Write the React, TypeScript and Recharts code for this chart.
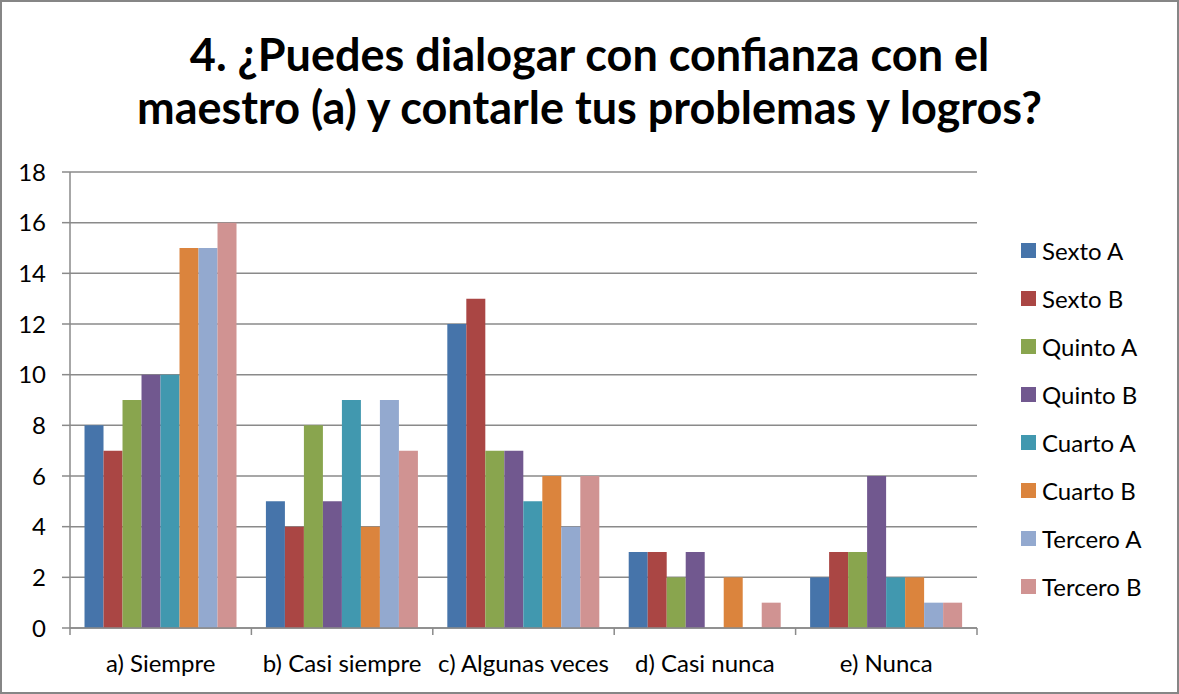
import React from 'react';
import { BarChart, Bar, XAxis, YAxis, CartesianGrid } from 'recharts';

const categories = ['a) Siempre', 'b) Casi siempre', 'c) Algunas veces', 'd) Casi nunca', 'e) Nunca'];
const seriesNames = ['Sexto A', 'Sexto B', 'Quinto A', 'Quinto B', 'Cuarto A', 'Cuarto B', 'Tercero A', 'Tercero B'];
const seriesColors = ['#4674AA', '#AA4644', '#89A54E', '#71588F', '#4198AF', '#DB843D', '#93A9CF', '#D09392'];

const sextoA = [8, 5, 12, 3, 2];
const sextoB = [7, 4, 13, 3, 3];
const quintoA = [9, 8, 7, 2, 3];
const quintoB = [10, 5, 7, 3, 6];
const cuartoA = [10, 9, 5, 0, 2];
const cuartoB = [15, 4, 6, 2, 2];
const terceroA = [15, 9, 4, 0, 1];
const terceroB = [16, 7, 6, 1, 1];
const yTicks = [0, 2, 4, 6, 8, 10, 12, 14, 16, 18];

const seriesValues = [sextoA, sextoB, quintoA, quintoB, cuartoA, cuartoB, terceroA, terceroB];

const data = categories.map((name, i) => {
  const row: Record<string, string | number> = { name };
  seriesNames.forEach((s, j) => {
    row[s] = seriesValues[j][i];
  });
  return row;
});

const W = 1179;
const H = 694;
const PLOT_LEFT = 70;
const PLOT_RIGHT = 202;
const PLOT_TOP = 172;
const X_AXIS_H = 66;
const BAND = (W - PLOT_LEFT - PLOT_RIGHT) / categories.length;
const AXIS_GRAY = '#8a8a8a';
const LABEL_SIZE = 24;

const XTick = (props: any) => {
  const { x, y, payload, index } = props;
  return (
    <g>
      <line x1={x - BAND / 2} x2={x - BAND / 2} y1={y} y2={y + 7} stroke={AXIS_GRAY} strokeWidth={1.5} />
      {index === categories.length - 1 && (
        <line x1={x + BAND / 2} x2={x + BAND / 2} y1={y} y2={y + 7} stroke={AXIS_GRAY} strokeWidth={1.5} />
      )}
      <text x={x} y={y + 34} textAnchor="middle" dominantBaseline="central" fontSize={LABEL_SIZE} fill="#000">
        {payload.value}
      </text>
    </g>
  );
};

const LegendBox = () => (
  <div style={{ position: 'absolute', left: 1021, top: 226, display: 'flex', flexDirection: 'column' }}>
    {seriesNames.map((s, i) => (
      <div key={s} style={{ display: 'flex', alignItems: 'center', height: 48 }}>
        <span style={{ width: 15, height: 15, background: seriesColors[i], marginRight: 6, display: 'inline-block' }} />
        <span style={{ fontSize: LABEL_SIZE, color: '#000' }}>{s}</span>
      </div>
    ))}
  </div>
);

export default function App() {
  return (
    <div
      style={{
        position: 'absolute',
        left: 0,
        top: 0,
        width: W,
        height: H,
        background: '#fff',
        fontFamily: 'Lato, "Open Sans", sans-serif',
      }}
    >
      <div
        style={{
          position: 'absolute',
          left: 0,
          top: 28,
          width: W,
          textAlign: 'center',
          fontWeight: 'bold',
          fontSize: 45,
          lineHeight: '53px',
          color: '#000',
        }}
      >
        4. ¿Puedes dialogar con confianza con el
        <br />
        maestro (a) y contarle tus problemas y logros?
      </div>
      <BarChart
        width={W}
        height={H}
        data={data}
        margin={{ top: PLOT_TOP, right: PLOT_RIGHT, left: 0, bottom: 0 }}
        barCategoryGap="8%"
        barGap={0}
      >
        <CartesianGrid vertical={false} stroke={AXIS_GRAY} strokeWidth={1.5} />
        <XAxis
          dataKey="name"
          height={X_AXIS_H}
          tickLine={false}
          tickSize={0}
          tickMargin={0}
          axisLine={{ stroke: AXIS_GRAY, strokeWidth: 1.5 }}
          tick={<XTick />}
          interval={0}
        />
        <YAxis
          width={PLOT_LEFT}
          domain={[0, 18]}
          ticks={yTicks}
          interval={0}
          tickSize={8}
          tickMargin={16}
          tick={{ fontSize: LABEL_SIZE, fill: '#000' }}
          tickLine={{ stroke: AXIS_GRAY, strokeWidth: 1.5 }}
          axisLine={{ stroke: AXIS_GRAY, strokeWidth: 1.5 }}
        />
        {seriesNames.map((s, i) => (
          <Bar key={s} dataKey={s} fill={seriesColors[i]} isAnimationActive={false} />
        ))}
      </BarChart>
      <LegendBox />
      <div
        style={{
          position: 'absolute',
          left: 0,
          top: 0,
          width: W,
          height: H,
          boxSizing: 'border-box',
          border: '2px solid #868686',
          pointerEvents: 'none',
        }}
      />
    </div>
  );
}
